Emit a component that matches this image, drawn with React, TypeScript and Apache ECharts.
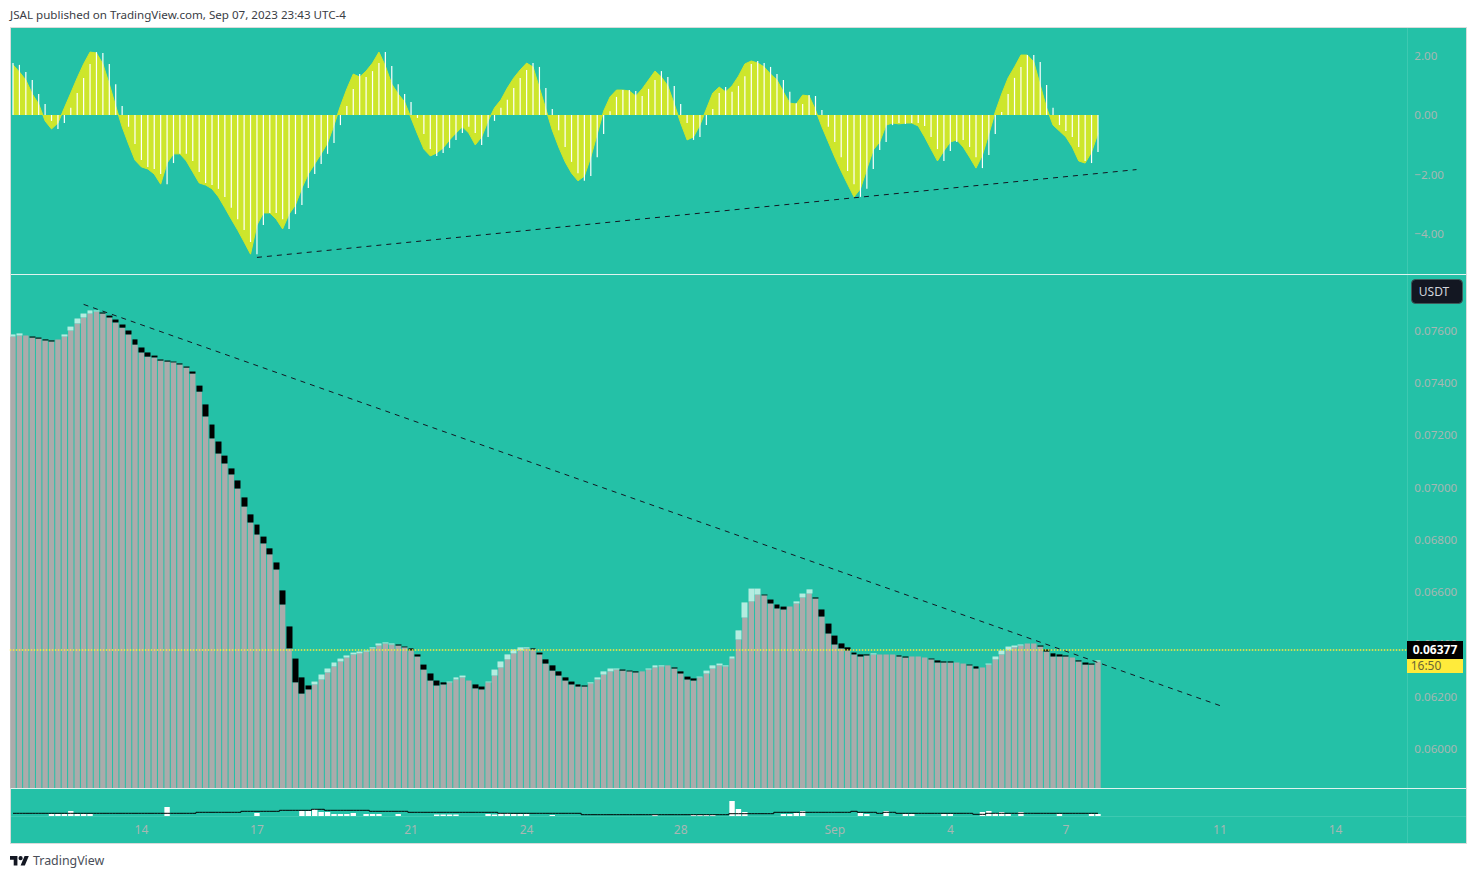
import React, { useEffect, useRef } from "react";
import * as echarts from "echarts";

const barCount = 218;
const tickIndex = [20, 38, 62, 80, 104, 128, 146, 164, 188, 206];
const tickLabels = ["14", "17", "21", "24", "28", "Sep", "4", "7", "11", "14"];
const priceTicks = [0.06, 0.062, 0.064, 0.066, 0.068, 0.07, 0.072, 0.074, 0.076];
const macdTicks = [-4, -2, 0, 2];
const lastPrice = 0.06377;

const opens = [
  0.07577, 0.07581, 0.07581, 0.07577, 0.07573, 0.07566, 0.07562, 0.07566, 0.07577, 0.076,
  0.07627, 0.0765, 0.07665, 0.07673, 0.07669, 0.07657, 0.07642, 0.07623, 0.076, 0.07566,
  0.07535, 0.07516, 0.07504, 0.07489, 0.07485, 0.07481, 0.07474, 0.07462, 0.07443, 0.07389,
  0.07317, 0.0724, 0.07175, 0.07121, 0.07072, 0.07026, 0.06961, 0.06896, 0.06857, 0.06811,
  0.06766, 0.06712, 0.06605, 0.06467, 0.06344, 0.06272, 0.06241, 0.06245, 0.06264, 0.06291,
  0.06314, 0.06333, 0.06348, 0.0636, 0.06364, 0.06371, 0.06383, 0.06394, 0.06402, 0.06398,
  0.06398, 0.0639, 0.06383, 0.0636, 0.06321, 0.06287, 0.0626, 0.06253, 0.06253, 0.06264,
  0.06272, 0.0626, 0.06245, 0.06237, 0.06253, 0.06279, 0.0631, 0.06341, 0.06364, 0.06375,
  0.06383, 0.06383, 0.06367, 0.06341, 0.06318, 0.06295, 0.06272, 0.06256, 0.06245, 0.06241,
  0.06249, 0.06264, 0.06283, 0.06295, 0.06302, 0.06302, 0.06298, 0.06295, 0.06295, 0.06302,
  0.0631, 0.06314, 0.06318, 0.0631, 0.06295, 0.06275, 0.06268, 0.06272, 0.06287, 0.06306,
  0.06318, 0.06314, 0.06344, 0.06417, 0.06501, 0.06563, 0.06589, 0.06589, 0.0657, 0.06551,
  0.06543, 0.06543, 0.06555, 0.06578, 0.06593, 0.06578, 0.06532, 0.06478, 0.06432, 0.06402,
  0.06387, 0.06367, 0.0636, 0.0636, 0.0636, 0.0636, 0.0636, 0.0636, 0.06356, 0.06352,
  0.06352, 0.06352, 0.06348, 0.06344, 0.06337, 0.06333, 0.06333, 0.06329, 0.06325, 0.06321,
  0.06314, 0.0631, 0.06321, 0.06341, 0.0636, 0.06375, 0.06387, 0.06394, 0.06402, 0.06402,
  0.06394, 0.06379, 0.06364, 0.0636, 0.06356, 0.06348, 0.06337, 0.06329, 0.06325, 0.06333,
];
const closes = [
  0.07585, 0.07589, 0.07581, 0.07573, 0.07569, 0.07562, 0.07558, 0.07566, 0.07585, 0.07615,
  0.07646, 0.07665, 0.07677, 0.07677, 0.07665, 0.0765, 0.07631, 0.07611, 0.07585, 0.07546,
  0.07516, 0.075, 0.07497, 0.07485, 0.07481, 0.07478, 0.0747, 0.07458, 0.07435, 0.07366,
  0.07271, 0.07187, 0.07129, 0.07091, 0.07049, 0.06995, 0.06926, 0.06865, 0.06819, 0.06785,
  0.06743, 0.06685, 0.06551, 0.06383, 0.06253, 0.0621, 0.06226, 0.06256, 0.06283, 0.06306,
  0.06329, 0.06344, 0.06356, 0.06367, 0.06371, 0.06375, 0.06387, 0.06402, 0.06406, 0.06402,
  0.06394, 0.06387, 0.06375, 0.06352, 0.06302, 0.0626, 0.06241, 0.06245, 0.06256, 0.06272,
  0.06279, 0.0626, 0.0623, 0.06226, 0.06256, 0.06302, 0.06333, 0.0636, 0.06379, 0.06387,
  0.06387, 0.06379, 0.0636, 0.06325, 0.06298, 0.06279, 0.0626, 0.06245, 0.06237, 0.06237,
  0.06253, 0.06272, 0.06295, 0.06306, 0.06306, 0.06298, 0.06295, 0.06291, 0.06295, 0.06306,
  0.06318, 0.06318, 0.06318, 0.06306, 0.06287, 0.06264, 0.0626, 0.06275, 0.06298, 0.06318,
  0.06325, 0.06318, 0.06352, 0.06452, 0.06559, 0.06612, 0.06612, 0.06586, 0.06555, 0.06536,
  0.06532, 0.06543, 0.06563, 0.06593, 0.06609, 0.06574, 0.06505, 0.0644, 0.06398, 0.06383,
  0.06375, 0.0636, 0.06352, 0.06356, 0.06364, 0.0636, 0.0636, 0.0636, 0.06352, 0.06348,
  0.06352, 0.06352, 0.06348, 0.06341, 0.06329, 0.06329, 0.06329, 0.06329, 0.06325, 0.06318,
  0.06306, 0.0631, 0.06325, 0.06352, 0.06375, 0.0639, 0.06394, 0.06398, 0.06402, 0.06402,
  0.0639, 0.06371, 0.06352, 0.06352, 0.06352, 0.06348, 0.06333, 0.06321, 0.06321, 0.06337,
];
const macdHistogram = [
  1.75, 1.69, 1.45, 1.18, 0.71, 0.37, -0.2, -0.47, -0.27, 0.24,
  0.74, 1.25, 1.72, 2.12, 2.09, 1.72, 1.04, 0.3, -0.4, -0.98,
  -1.52, -1.75, -1.82, -1.99, -2.33, -1.62, -1.31, -1.31, -1.55, -1.92,
  -2.29, -2.36, -2.49, -2.76, -3.13, -3.51, -3.88, -4.28, -4.69, -3.71,
  -3.3, -3.3, -3.51, -3.84, -3.34, -3.03, -2.46, -1.99, -1.65, -1.31,
  -0.94, -0.34, 0.3, 0.88, 1.38, 1.28, 1.48, 1.75, 2.12, 1.65,
  1.04, 0.71, 0.44, -0.1, -0.64, -1.15, -1.38, -1.28, -1.11, -0.84,
  -0.61, -0.4, -0.61, -1.01, -0.74, -0.2, 0.24, 0.51, 0.91, 1.25,
  1.52, 1.75, 1.62, 0.91, 0.2, -0.51, -1.08, -1.58, -1.96, -2.22,
  -2.06, -1.42, -0.64, 0.13, 0.61, 0.84, 0.84, 0.81, 0.64, 0.88,
  1.18, 1.48, 1.28, 0.98, 0.37, -0.27, -0.84, -0.74, -0.34, 0.2,
  0.74, 0.94, 0.78, 0.98, 1.31, 1.72, 1.82, 1.75, 1.62, 1.38,
  1.18, 0.78, 0.4, 0.37, 0.67, 0.64, 0.17, -0.4, -0.91, -1.42,
  -1.89, -2.33, -2.76, -2.49, -1.82, -1.18, -0.91, -0.34, -0.27, -0.3,
  -0.27, -0.27, -0.37, -0.74, -1.15, -1.55, -1.21, -0.91, -0.84, -1.08,
  -1.42, -1.79, -1.35, -0.64, 0.1, 0.71, 1.25, 1.62, 2.02, 2.02,
  1.79, 1.01, 0.24, -0.34, -0.54, -0.74, -1.08, -1.55, -1.62, -1.25,
];
const macdArea = [
  1.69, 1.45, 1.18, 0.71, 0.37, -0.2, -0.47, -0.27, 0.24, 0.74,
  1.25, 1.72, 2.12, 2.09, 1.72, 1.04, 0.3, -0.4, -0.98, -1.52,
  -1.75, -1.82, -1.99, -2.33, -1.62, -1.31, -1.31, -1.55, -1.92, -2.29,
  -2.36, -2.49, -2.76, -3.13, -3.51, -3.88, -4.28, -4.69, -3.71, -3.3,
  -3.3, -3.51, -3.84, -3.34, -3.03, -2.46, -1.99, -1.65, -1.31, -0.94,
  -0.34, 0.3, 0.88, 1.38, 1.28, 1.48, 1.75, 2.12, 1.65, 1.04,
  0.71, 0.44, -0.1, -0.64, -1.15, -1.38, -1.28, -1.11, -0.84, -0.61,
  -0.4, -0.61, -1.01, -0.74, -0.2, 0.24, 0.51, 0.91, 1.25, 1.52,
  1.75, 1.62, 0.91, 0.2, -0.51, -1.08, -1.58, -1.96, -2.22, -2.06,
  -1.42, -0.64, 0.13, 0.61, 0.84, 0.84, 0.81, 0.64, 0.88, 1.18,
  1.48, 1.28, 0.98, 0.37, -0.27, -0.84, -0.74, -0.34, 0.2, 0.74,
  0.94, 0.78, 0.98, 1.31, 1.72, 1.82, 1.75, 1.62, 1.38, 1.18,
  0.78, 0.4, 0.37, 0.67, 0.64, 0.17, -0.4, -0.91, -1.42, -1.89,
  -2.33, -2.76, -2.49, -1.82, -1.18, -0.91, -0.34, -0.27, -0.3, -0.27,
  -0.27, -0.37, -0.74, -1.15, -1.55, -1.21, -0.91, -0.84, -1.08, -1.42,
  -1.79, -1.35, -0.64, 0.1, 0.71, 1.25, 1.62, 2.02, 2.02, 1.79,
  1.01, 0.24, -0.34, -0.54, -0.74, -1.08, -1.55, -1.62, -1.25, -0.62,
];
const volumes = [
  0, 0, 0, 0, 0, 0, 2, 2, 2, 5,
  2, 2, 2, 0, 0, 0, 0, 0, 0, 0,
  0, 0, 0, 0, 9, 0, 0, 0, 0, 0,
  0, 0, 0, 0, 0, 0, 0, 0, 3, 0,
  0, 0, 0, 0, 0, 5, 5, 7, 4, 4,
  2, 2, 2, 3, 0, 2, 2, 2, 0, 0,
  2, 0, 0, 0, 0, 0, 1.5, 1.5, 1.5, 1.5,
  0, 0, 0, 0, 2, 1.5, 3, 3, 2, 2,
  2, 0, 0, 0, 1, 0, 0, 0, 0, 0,
  0, 0, 0, 0, 0, 0, 0, 0, 0, 0,
  1.5, 0, 0, 0, 0, 0, 1, 1, 1, 1,
  0, 0, 15, 7, 4, 0, 0, 0, 0, 0,
  2, 2, 3, 5, 0, 0, 0, 0, 0, 0,
  0, 0, 3, 2, 0, 0, 5, 0, 0, 2,
  2, 0, 0, 0, 0, 2, 2, 0, 0, 0,
  0, 4, 5, 3, 4, 2, 0, 4, 0, 0,
  0, 0, 0, 2, 0, 0, 0, 0, 2, 2,
];
const volumeAverage = [
  2.7, 2.7, 2.7, 2.7, 2.7, 2.7, 2.7, 2.7, 2.7, 2.7,
  2.7, 2.7, 2.7, 2.7, 2.7, 2.7, 2.7, 2.7, 2.7, 2.7,
  2.7, 2.7, 2.7, 2.7, 2.7, 2.7, 2.7, 2.7, 2.7, 3.7,
  3.7, 3.7, 3.7, 3.7, 3.7, 3.7, 4.7, 4.7, 4.7, 4.7,
  4.7, 4.7, 5.7, 5.7, 5.7, 5.7, 5.7, 6.7, 6.7, 5.7,
  5.7, 5.7, 5.7, 5.7, 5.7, 5.7, 4.7, 4.7, 4.7, 4.7,
  4.7, 4.7, 3.7, 3.7, 3.7, 3.7, 3.7, 3.7, 3.7, 3.7,
  3.7, 3.7, 3.7, 3.7, 3.7, 3.7, 2.7, 2.7, 2.7, 2.7,
  2.7, 2.7, 2.7, 2.7, 2.7, 2.7, 2.7, 2.7, 2.7, 1.3,
  1.3, 1.3, 1.3, 1.3, 1.3, 1.3, 1.3, 1.3, 1.3, 1.3,
  1.3, 1.3, 1.3, 1.3, 1.3, 1.3, 1.3, 1.3, 1.3, 1.3,
  1.3, 1.3, 2.3, 2.3, 2.3, 2.3, 2.3, 2.3, 2.3, 3.7,
  3.7, 3.7, 3.7, 3.7, 3.7, 3.7, 3.7, 3.7, 3.7, 3.7,
  3.7, 4.7, 3.7, 3.7, 3.7, 2.7, 3.7, 3.7, 2.7, 2.7,
  2.7, 2.7, 2.7, 2.7, 2.7, 2.7, 2.7, 2.7, 2.7, 2.7,
  1.7, 1.7, 2.7, 2.7, 2.7, 2.7, 2.7, 2.7, 2.7, 2.7,
  2.7, 2.7, 2.7, 2.7, 2.7, 2.7, 2.7, 2.7, 2.7, 2.7,
];

const TEAL = "#24c1a7";
const YELLOWGREEN = "#cde62c";
const GREY = "#ababab";
const AXIS_TEXT = "#a7b7b3";
const FONT = "Noto Sans";
const LOGO =
  "M14 22H7V11H0V4h14v18zM28 22h-8l7.5-18h8L28 22zM24 8a4 4 0 1 1-8 0 4 4 0 0 1 8 0z";

const categories = Array.from({ length: barCount }, (_, i) => {
  const p = tickIndex.indexOf(i);
  return p >= 0 ? tickLabels[p] : `b${i}`;
});

export default function App() {
  const ref = useRef<HTMLDivElement>(null);
  useEffect(() => {
    if (!ref.current) return;
    echarts.graphic.registerShape("tvlogo", echarts.graphic.extendPath(LOGO, {}));
    const chart = echarts.init(ref.current, undefined, { renderer: "svg" });
    const xAxisBase = {
      type: "category",
      data: categories,
      axisLine: { show: false },
      axisTick: { show: false },
      splitLine: { show: false },
    };
    const dashed = { color: "#131722", width: 1, type: [5, 5] };
    chart.setOption({
      animation: false,
      backgroundColor: "#ffffff",
      grid: [
        { left: 9.79, top: 28, width: 1399.56, height: 246 },
        { left: 9.79, top: 275, width: 1399.56, height: 513 },
        { left: 9.79, top: 789, width: 1399.56, height: 27 },
      ],
      xAxis: [
        { ...xAxisBase, gridIndex: 0, axisLabel: { show: false } },
        { ...xAxisBase, gridIndex: 1, axisLabel: { show: false } },
        {
          ...xAxisBase,
          gridIndex: 2,
          axisLabel: {
            show: true,
            interval: (i: number) => tickIndex.includes(i),
            color: AXIS_TEXT,
            fontFamily: FONT,
            fontSize: 12,
            margin: 7,
            hideOverlap: false,
          },
        },
      ],
      yAxis: [
        {
          type: "value",
          gridIndex: 0,
          position: "right",
          min: -5.359,
          max: 2.932,
          splitLine: { show: false },
          axisLine: { show: false },
          axisTick: { show: false },
          axisLabel: {
            customValues: macdTicks,
            color: AXIS_TEXT,
            fontFamily: FONT,
            fontSize: 11.6,
            margin: 5,
            padding: [0, 0, 2, 0],
            formatter: (v: number) => (v < 0 ? "\u2212" : "") + Math.abs(v).toFixed(2),
          },
        },
        {
          type: "value",
          gridIndex: 1,
          position: "right",
          min: 0.058485,
          max: 0.078125,
          splitLine: { show: false },
          axisLine: { show: false },
          axisTick: { show: false },
          axisLabel: {
            customValues: priceTicks,
            color: AXIS_TEXT,
            fontFamily: FONT,
            fontSize: 11.6,
            margin: 5,
            padding: [0, 0, 4, 0],
            formatter: (v: number) => v.toFixed(5),
          },
        },
        {
          type: "value",
          gridIndex: 2,
          position: "right",
          min: 0,
          max: 27,
          splitLine: { show: false },
          axisLine: { show: false },
          axisTick: { show: false },
          axisLabel: { show: false },
        },
      ],
      series: [
        {
          type: "line",
          name: "MACD area",
          xAxisIndex: 0,
          yAxisIndex: 0,
          data: macdArea,
          showSymbol: false,
          symbol: "none",
          lineStyle: { color: YELLOWGREEN, width: 1 },
          areaStyle: { color: YELLOWGREEN, opacity: 1 },
          z: 2,
        },
        {
          type: "bar",
          name: "MACD histogram",
          xAxisIndex: 0,
          yAxisIndex: 0,
          data: macdHistogram,
          barWidth: 1.2,
          itemStyle: { color: "#ffffff" },
          z: 3,
          markLine: {
            silent: true,
            symbol: "none",
            label: { show: false },
            lineStyle: dashed,
            data: [[{ coord: [38, -4.8] }, { coord: [175, -1.84] }]],
          },
        },
        {
          type: "bar",
          name: "Price base",
          xAxisIndex: 1,
          yAxisIndex: 1,
          data: opens.map((o, i) => Math.min(o, closes[i])),
          barWidth: 5.4,
          itemStyle: { color: GREY },
          z: 2,
        },
        {
          type: "candlestick",
          name: "Price body",
          xAxisIndex: 1,
          yAxisIndex: 1,
          barWidth: 6.4,
          data: opens.map((o, i) => {
            const c = closes[i];
            return [o, c, Math.min(o, c), Math.max(o, c)];
          }),
          itemStyle: {
            color: "#b4ece0",
            color0: "#000000",
            borderColor: "#b4ece0",
            borderColor0: "#000000",
            borderColorDoji: GREY,
            borderWidth: 0,
          },
          z: 3,
          markLine: {
            silent: true,
            symbol: "none",
            precision: 6,
            label: { show: false },
            data: [
              [
                { coord: [11, 0.077], lineStyle: dashed },
                { coord: [188, 0.06164], lineStyle: dashed },
              ],
              {
                yAxis: lastPrice,
                lineStyle: { color: "#ffeb3b", width: 1.5, type: [1.5, 1.5] },
              },
            ],
          },
        },
        {
          type: "bar",
          name: "Volume",
          xAxisIndex: 2,
          yAxisIndex: 2,
          data: volumes,
          barWidth: 5.4,
          itemStyle: { color: "#ffffff" },
          z: 2,
        },
        {
          type: "line",
          name: "Volume average",
          xAxisIndex: 2,
          yAxisIndex: 2,
          data: volumeAverage,
          step: "middle",
          showSymbol: false,
          symbol: "none",
          lineStyle: { color: "#000000", width: 1 },
          z: 3,
        },
      ],
      graphic: [
        { type: "rect", z: -10, silent: true, shape: { x: 10.5, y: 27.5, width: 1456, height: 816 }, style: { fill: TEAL, stroke: "#d9dbdb", lineWidth: 1 } },
        { type: "line", z: 20, silent: true, shape: { x1: 11, y1: 274.5, x2: 1466, y2: 274.5 }, style: { stroke: "#dff3ef", lineWidth: 1 } },
        { type: "line", z: 20, silent: true, shape: { x1: 11, y1: 788.5, x2: 1466, y2: 788.5 }, style: { stroke: "#dff3ef", lineWidth: 1 } },
        { type: "line", z: -5, silent: true, shape: { x1: 11, y1: 816.5, x2: 1466, y2: 816.5 }, style: { stroke: "#3dc9b1", lineWidth: 1 } },
        { type: "line", z: -5, silent: true, shape: { x1: 1407.5, y1: 28, x2: 1407.5, y2: 843 }, style: { stroke: "#3dc9b1", lineWidth: 1 } },
        { type: "text", z: 30, silent: true, x: 10, y: 14.5, style: { text: "JSAL published on TradingView.com, Sep 07, 2023 23:43 UTC-4", fontFamily: FONT, fontSize: 11.6, fill: "#3a3d45", textVerticalAlign: "middle" } },
        { type: "rect", z: 30, silent: true, shape: { x: 1411.5, y: 279.5, width: 51, height: 24, r: 4 }, style: { fill: "#131722", stroke: "#3d5a5a", lineWidth: 1 } },
        { type: "text", z: 31, silent: true, x: 1434, y: 291.5, style: { text: "USDT", fontFamily: FONT, fontSize: 12, fill: "#d1d4dc", textAlign: "center", textVerticalAlign: "middle" } },
        { type: "rect", z: 30, silent: true, shape: { x: 1407, y: 641, width: 56, height: 18 }, style: { fill: "#000000" } },
        { type: "text", z: 31, silent: true, x: 1435, y: 649.5, style: { text: "0.06377", fontFamily: FONT, fontSize: 12, fontWeight: "bold", fill: "#ffffff", textAlign: "center", textVerticalAlign: "middle" } },
        { type: "rect", z: 30, silent: true, shape: { x: 1407, y: 659, width: 56, height: 14 }, style: { fill: "#ffeb3b" } },
        { type: "text", z: 31, silent: true, x: 1426, y: 665, style: { text: "16:50", fontFamily: FONT, fontSize: 12, fill: "#6b6534", textAlign: "center", textVerticalAlign: "middle" } },
        { type: "tvlogo", z: 30, silent: true, x: 10, y: 854, scaleX: 0.53, scaleY: 0.52, style: { fill: "#131722" } },
        { type: "text", z: 30, silent: true, x: 33, y: 860.5, style: { text: "TradingView", fontFamily: FONT, fontSize: 12.4, fill: "#4a4e58", textVerticalAlign: "middle" } },
      ],
    });
    return () => chart.dispose();
  }, []);
  return (
    <div
      ref={ref}
      style={{ position: "absolute", left: 0, top: 0, width: 1477, height: 879 }}
    />
  );
}
